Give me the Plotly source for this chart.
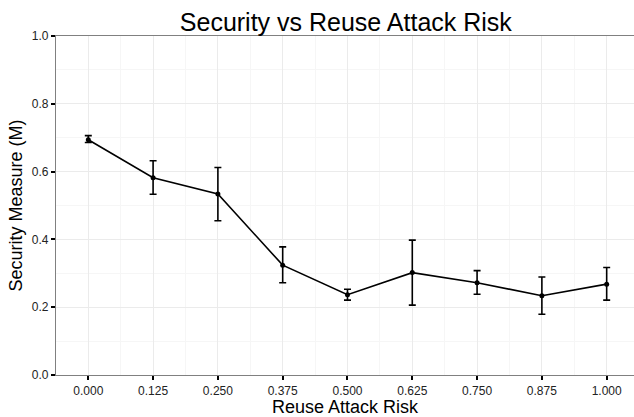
import plotly.graph_objects as go

risk = [0.000, 0.125, 0.250, 0.375, 0.500, 0.625, 0.750, 0.875, 1.000]
security = [0.694, 0.582, 0.534, 0.324, 0.237, 0.302, 0.272, 0.234, 0.268]
err_hi = [0.706, 0.632, 0.612, 0.378, 0.253, 0.398, 0.308, 0.289, 0.317]
err_lo = [0.686, 0.533, 0.455, 0.272, 0.221, 0.206, 0.238, 0.179, 0.221]

x_ticks = [0.000, 0.125, 0.250, 0.375, 0.500, 0.625, 0.750, 0.875, 1.000]
x_tick_labels = ["0.000", "0.125", "0.250", "0.375", "0.500", "0.625", "0.750", "0.875", "1.000"]
y_ticks = [0.0, 0.2, 0.4, 0.6, 0.8, 1.0]
y_tick_labels = ["0.0", "0.2", "0.4", "0.6", "0.8", "1.0"]

plus = [h - m for h, m in zip(err_hi, security)]
minus = [m - l for m, l in zip(security, err_lo)]

font = "Liberation Sans, Arial, Helvetica, sans-serif"

fig = go.Figure()
fig.add_trace(go.Scatter(
    x=risk, y=security, mode="lines+markers",
    line=dict(color="black", width=1.6),
    marker=dict(color="black", size=5),
    error_y=dict(type="data", symmetric=False, array=plus, arrayminus=minus,
                 color="black", thickness=1.6, width=3.5),
    showlegend=False,
))

fig.update_layout(
    width=634, height=417,
    margin=dict(l=56, r=0, t=36, b=42),
    paper_bgcolor="white", plot_bgcolor="white",
    font=dict(family=font, color="black"),
    title=dict(text="Security vs Reuse Attack Risk", x=0.5455, xanchor="center",
               y=0.968, yanchor="top", font=dict(size=25, color="black"), automargin=False),
    xaxis=dict(
        range=[-0.0623, 1.0527], tickmode="array", tickvals=x_ticks, ticktext=x_tick_labels,
        ticks="outside", ticklen=4, tickcolor="black", tickwidth=1.5,
        tickfont=dict(size=12, color="#222"),
        showline=True, linecolor="#808080", linewidth=1.2, mirror=True,
        showgrid=True, gridcolor="#ebebeb", gridwidth=1,
        minor=dict(dtick=0.0625, tick0=0, showgrid=True, gridcolor="#f6f6f6", gridwidth=1, ticks=""),
        zeroline=False, automargin=False,
        title=dict(text="Reuse Attack Risk", font=dict(size=18, color="black"), standoff=0),
    ),
    yaxis=dict(
        range=[0, 1], tickmode="array", tickvals=y_ticks, ticktext=y_tick_labels,
        ticks="outside", ticklen=4, tickcolor="black", tickwidth=1.5,
        tickfont=dict(size=12, color="#222"),
        showline=True, linecolor="#808080", linewidth=1.2,
        showgrid=True, gridcolor="#ebebeb", gridwidth=1,
        minor=dict(dtick=0.1, tick0=0, showgrid=True, gridcolor="#f6f6f6", gridwidth=1, ticks=""),
        zeroline=False, automargin=False,
        title=dict(text="Security Measure (M)", font=dict(size=18, color="black"), standoff=4),
    ),
)

fig.write_html("out.html", config={"displayModeBar": False},
               post_script="document.body.style.margin='0';document.body.style.overflow='hidden';")
